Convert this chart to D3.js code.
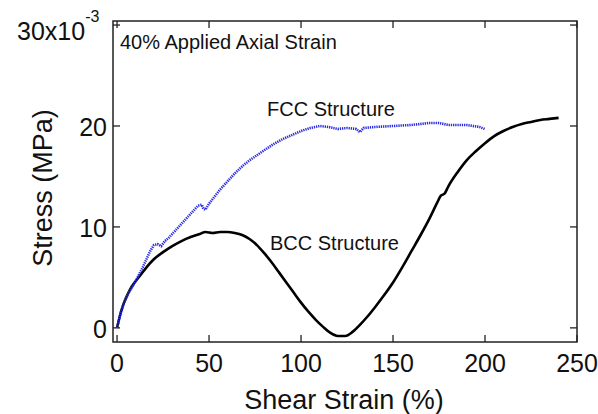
<!DOCTYPE html>
<html>
<head>
<meta charset="utf-8">
<title>Stress vs shear strain</title>
<script src="https://cdn.jsdelivr.net/npm/d3@7"></script>
<style>
    body { margin: 0; background: #fff; }
    text { font-family: "Liberation Sans", Arial, sans-serif; fill: #111; }
    .frame { fill: none; stroke: #222; stroke-width: 1.5px; }
    .tick { stroke: #222; stroke-width: 1.3px; }
</style>
</head>
<body>
<div id="vis"></div>
<script>
    // shear strain (%) / stress (x10^-3 MPa)
    var fccStrain = [0, 2, 4, 6, 8, 10, 12, 14, 16, 18, 20, 22, 24, 26, 28, 30, 33, 36, 39, 42, 44, 46, 47, 48, 50,
        53, 56, 60, 64, 68, 72, 76, 80, 85, 90, 95, 100, 105, 110, 115, 120, 125, 130, 132, 134, 140, 150, 160,
        170, 175, 180, 190, 197, 200];
    var fccStress = [0, 1.5, 2.6, 3.4, 4.0, 4.6, 5.3, 6.0, 6.8, 7.6, 8.2, 8.3, 8.1, 8.6, 8.9, 9.3, 9.9, 10.5, 11.1,
        11.7, 12.1, 12.2, 11.8, 11.7, 12.3, 13.0, 13.7, 14.5, 15.3, 16.0, 16.6, 17.1, 17.6, 18.2, 18.7, 19.1, 19.5,
        19.8, 20.0, 19.9, 19.7, 19.8, 19.7, 19.4, 19.8, 19.9, 20.0, 20.1, 20.3, 20.3, 20.1, 20.1, 19.9, 19.7];

    var bccStrain = [0, 2, 4, 6, 8, 10, 13, 16, 20, 25, 30, 35, 40, 45, 48, 52, 56, 60, 64, 68, 72, 76, 80, 84, 88,
        92, 96, 100, 104, 108, 112, 116, 120, 124, 128, 132, 136, 140, 145, 150, 155, 160, 165, 170, 174, 176, 177,
        178, 180, 185, 190, 195, 200, 205, 210, 215, 220, 225, 230, 235, 240];
    var bccStress = [0, 1.5, 2.6, 3.4, 4.1, 4.6, 5.3, 6.0, 6.8, 7.5, 8.1, 8.6, 9.0, 9.3, 9.5, 9.4, 9.5, 9.5, 9.4,
        9.2, 8.8, 8.2, 7.4, 6.5, 5.5, 4.5, 3.5, 2.5, 1.6, 0.8, 0.1, -0.5, -0.8, -0.8, -0.4, 0.3, 1.1, 2.0, 3.2, 4.5,
        6.0, 7.6, 9.2, 10.9, 12.4, 13.1, 13.2, 13.3, 14.0, 15.4, 16.6, 17.5, 18.3, 19.0, 19.5, 19.9, 20.2, 20.4,
        20.6, 20.7, 20.8];

    var xTicks = [0, 50, 100, 150, 200, 250];
    var yTicks = [0, 10, 20, 30];
    var yTickLabels = ["0", "10", "20", "30x10"];

    var width = 598, height = 414;
    var pl = 113, pr = 577, pt = 21, pb = 342;

    var svg = d3.select("#vis").append("svg")
            .attr("width", width)
            .attr("height", height);

    var x = d3.scaleLinear().domain([-2.2, 250]).range([pl, pr]);
    var y = d3.scaleLinear().domain([-1.4, 30.4]).range([pb, pt]);

    // ticks on all four sides, pointing inwards
    var tl = 7;
    xTicks.forEach(function(t) {
        svg.append("line").attr("class", "tick")
                .attr("x1", x(t)).attr("x2", x(t)).attr("y1", pb).attr("y2", pb - tl);
        svg.append("line").attr("class", "tick")
                .attr("x1", x(t)).attr("x2", x(t)).attr("y1", pt).attr("y2", pt + tl);
    });
    yTicks.forEach(function(t) {
        svg.append("line").attr("class", "tick")
                .attr("x1", pl).attr("x2", pl + tl).attr("y1", y(t)).attr("y2", y(t));
        svg.append("line").attr("class", "tick")
                .attr("x1", pr).attr("x2", pr - tl).attr("y1", y(t)).attr("y2", y(t));
    });

    svg.selectAll(".xlab").data(xTicks).enter().append("text")
            .attr("x", function(d) { return x(d); })
            .attr("y", 372)
            .attr("text-anchor", "middle")
            .style("font-size", "25px")
            .text(function(d) { return d; });

    svg.selectAll(".ylab").data(yTicks.slice(0, 3)).enter().append("text")
            .attr("x", 107)
            .attr("y", function(d) { return y(d) + 10; })
            .attr("text-anchor", "end")
            .style("font-size", "25px")
            .text(function(d, i) { return yTickLabels[i]; });

    var top30 = svg.append("text")
            .attr("x", 17)
            .attr("y", 40)
            .style("font-size", "25px");
    top30.append("tspan").text(yTickLabels[3]);
    top30.append("tspan").attr("dy", -18).style("font-size", "16px").text("-3");

    svg.append("text")
            .attr("transform", "translate(52,188) rotate(-90)")
            .attr("text-anchor", "middle")
            .style("font-size", "27px")
            .text("Stress (MPa)");

    svg.append("text")
            .attr("x", 344)
            .attr("y", 409)
            .attr("text-anchor", "middle")
            .style("font-size", "27px")
            .text("Shear Strain (%)");

    var line = d3.line()
            .x(function(d) { return x(d[0]); })
            .y(function(d) { return y(d[1]); })
            .curve(d3.curveMonotoneX);

    svg.append("path")
            .datum(d3.zip(bccStrain, bccStress))
            .attr("d", line)
            .attr("fill", "none")
            .attr("stroke", "#000")
            .attr("stroke-width", 2.6);

    svg.append("path")
            .datum(d3.zip(fccStrain, fccStress))
            .attr("d", line.curve(d3.curveLinear))
            .attr("fill", "none")
            .attr("stroke", "#2a2ae0")
            .attr("stroke-width", 2.6)
            .attr("stroke-dasharray", "1.3,0.9");

    svg.append("text").attr("x", 120).attr("y", 49)
            .style("font-size", "20px").text("40% Applied Axial Strain");
    svg.append("text").attr("x", 267).attr("y", 116)
            .style("font-size", "20px").text("FCC Structure");
    svg.append("text").attr("x", 270).attr("y", 250)
            .style("font-size", "20px").text("BCC Structure");

    svg.append("rect").attr("class", "frame")
            .attr("x", pl).attr("y", pt)
            .attr("width", pr - pl).attr("height", pb - pt);
</script>
</body>
</html>
